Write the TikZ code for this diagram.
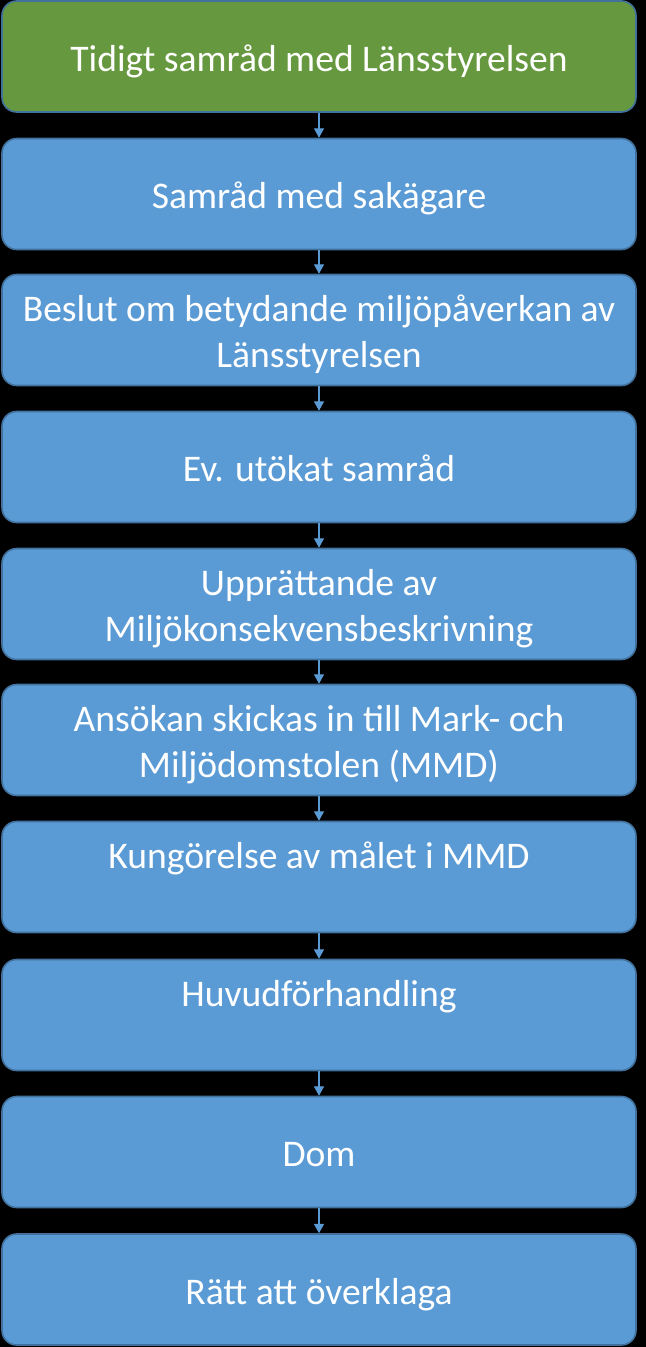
\documentclass[tikz,border=0pt]{standalone}
\usepackage{fontspec}
\setmainfont{Carlito}
\usetikzlibrary{arrows.meta}
\definecolor{boxblue}{HTML}{5B9BD5}
\definecolor{boxgreen}{HTML}{66993F}
\definecolor{edgeblue}{HTML}{41719C}
\definecolor{arrowblue}{HTML}{5B9BD5}
\newcommand\lnstrut{\rule[-6.2pt]{0pt}{34.4pt}}
\tikzset{
  stage/.style={draw=edgeblue, line width=1.2pt, fill=boxblue, rounded corners=11pt,
    minimum width=634*0.75pt, minimum height=111*0.75pt, inner sep=0pt,
    align=center, text=white, font=\fontsize{28.2}{34.4}\selectfont},
  firststage/.style={stage, fill=boxgreen},
  flow/.style={draw=arrowblue, line width=0.8pt, -{Triangle[length=7pt,width=7.5pt]}},
}
\begin{document}
\begin{tikzpicture}[x=0.75pt,y=-0.75pt]
\fill[black] (0,0) rectangle (646,1347);
\useasboundingbox (0,0) rectangle (646,1347);
\node[firststage] (s1) at (319,56.5) {\lnstrut Tidigt samråd med Länsstyrelsen};
\node[stage] (s2) at (319,194) {\lnstrut Samråd med sakägare};
\node[stage] (s3) at (319,330) {\lnstrut Beslut om betydande miljöpåverkan av\\\lnstrut Länsstyrelsen};
\node[stage] (s4) at (319,467) {\lnstrut Ev. utökat samråd};
\node[stage] (s5) at (319,604) {\lnstrut Upprättande av\\\lnstrut Miljökonsekvensbeskrivning};
\node[stage] (s6) at (319,740) {\lnstrut Ansökan skickas in till Mark- och\\\lnstrut Miljödomstolen (MMD)};
\node[stage] (s7) at (319,877) {\lnstrut Kungörelse av målet i MMD\\\lnstrut};
\node[stage] (s8) at (319,1015) {\lnstrut Huvudförhandling\\\lnstrut};
\node[stage] (s9) at (319,1152) {\lnstrut Dom};
\node[stage] (s10) at (319,1289.5) {\lnstrut Rätt att överklaga};
\foreach \a/\b in {s1/s2,s2/s3,s3/s4,s4/s5,s5/s6,s6/s7,s7/s8,s8/s9,s9/s10}
  \draw[flow] (\a.south) -- (\b.north);
\end{tikzpicture}
\end{document}
